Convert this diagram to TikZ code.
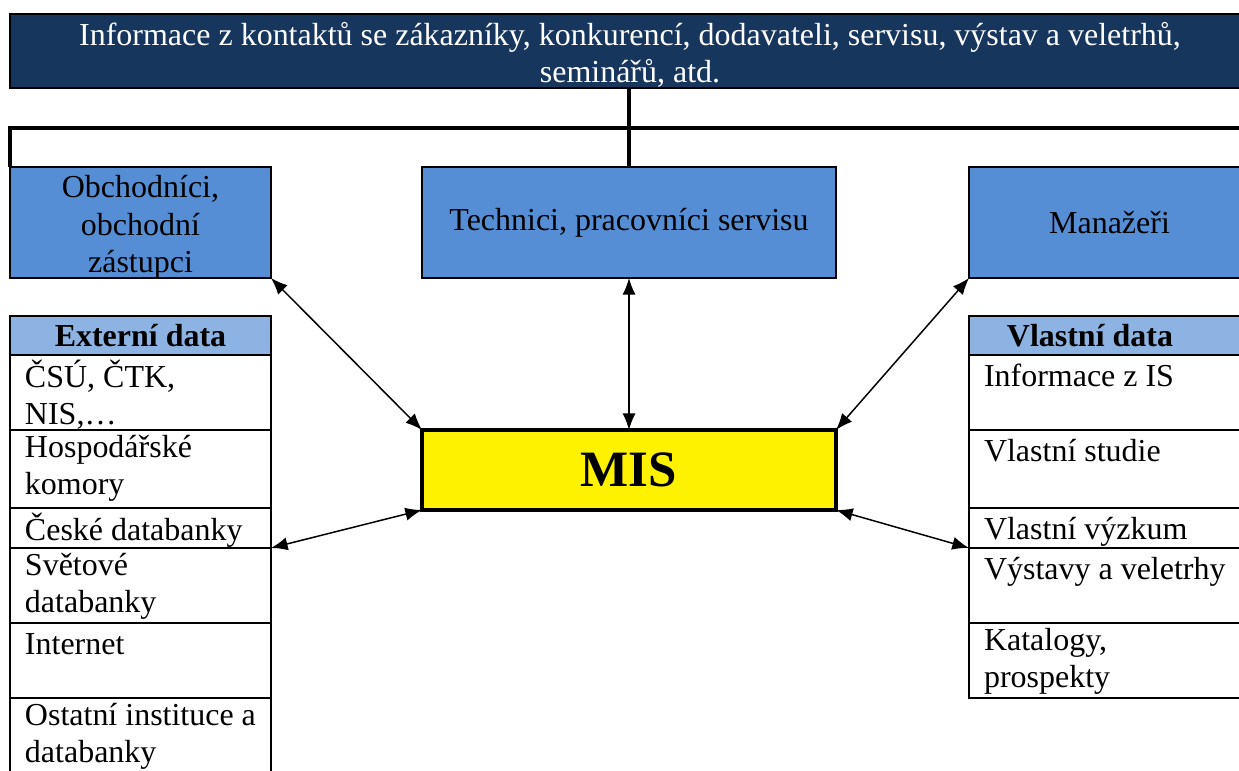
\documentclass[tikz,border=0pt]{standalone}
\usepackage{fontspec}
\setmainfont{Liberation Serif}
\usetikzlibrary{arrows.meta}
\definecolor{navy}{HTML}{17365D}
\definecolor{boxblue}{HTML}{558ED5}
\definecolor{headblue}{HTML}{8DB3E2}
\begin{document}
\begin{tikzpicture}[
    x=0.02cm, y=-0.02cm,
    every node/.style={
        font=\fontsize{18.2}{21.3}\selectfont,
        inner sep=0pt,
        outer sep=0pt},
    bluebox/.style={
        draw, line width=1.2pt, fill=boxblue, align=center,
        minimum height=2.22cm},
    cell/.style={
        draw, line width=1pt, anchor=north west,
        minimum width=5.22cm},
    headcell/.style={
        cell, fill=headblue, minimum height=0.78cm,
        font=\fontsize{18.2}{21.3}\selectfont\bfseries},
    celltext/.style={
        anchor=north west, align=left,
        execute at begin node=\strut},
    tree/.style={line width=1.9pt},
    biarrow/.style={
        line width=0.85pt,
        {Latex[length=9.5pt,width=7.5pt]}-{Latex[length=9.5pt,width=7.5pt]}}]
    \useasboundingbox (0,0) rectangle (1239,770);
    \clip (0,0) rectangle (1239,770);

    \node[draw, line width=1.2pt, fill=navy,
        minimum width=24.8cm, minimum height=1.48cm] (banner) at (630,51) {};
    \node[text=white, align=center] (bannertext) at ([yshift=-0.08cm]banner.center)
        {Informace z kontaktů se zákazníky, konkurencí, dodavateli, servisu, výstav a veletrhů,\\seminářů, atd.};

    \node[bluebox, minimum width=5.22cm] (obch) at (140.5,222.5) {};
    \node[align=center] (obchtext) at ([yshift=-0.1cm]obch.center)
        {Obchodníci,\\obchodní\\zástupci};
    \node[bluebox, minimum width=8.28cm] (tech) at (629,222.5)
        {Technici, pracovníci servisu};
    \node[bluebox, minimum width=5.62cm] (man) at (1109.5,222.5) {Manažeři};

    \node[draw, line width=2.3pt, fill=yellow, minimum width=8.28cm,
        minimum height=1.6cm, font=\fontsize{29}{34}\selectfont\bfseries]
        (mis) at (629,470) {MIS};

    % externi data
    \node[headcell] (ext) at (10,316) {Externí data};
    \node[cell, minimum height=1.5cm] (e1) at (10,355) {};
    \node[cell, minimum height=1.56cm] (e2) at (10,430) {};
    \node[cell, minimum height=0.8cm] (e3) at (10,508) {};
    \node[cell, minimum height=1.5cm] (e4) at (10,548) {};
    \node[cell, minimum height=1.5cm] (e5) at (10,623) {};
    \node[cell, minimum height=1.84cm] (e6) at (10,698) {};

    \node[celltext] (te1) at ([shift={(0.3cm,-0.1cm)}]e1.north west) {ČSÚ, ČTK,\\NIS,…};
    \node[celltext] (te2) at ([shift={(0.3cm,-0.1cm)}]e2.north west) {Hospodářské\\komory};
    \node[celltext] (te3) at ([shift={(0.3cm,-0.1cm)}]e3.north west) {České databanky};
    \node[celltext] (te4) at ([shift={(0.3cm,-0.1cm)}]e4.north west) {Světové\\databanky};
    \node[celltext] (te5) at ([shift={(0.3cm,-0.1cm)}]e5.north west) {Internet};
    \node[celltext] (te6) at ([shift={(0.3cm,-0.1cm)}]e6.north west) {Ostatní instituce a\\databanky};

    % vlastni data
    \node[headcell, minimum width=5.6cm] (own) at (969,316) {\hspace{-0.76cm}Vlastní data};
    \node[cell, minimum width=5.6cm, minimum height=1.5cm] (v1) at (969,355) {};
    \node[cell, minimum width=5.6cm, minimum height=1.56cm] (v2) at (969,430) {};
    \node[cell, minimum width=5.6cm, minimum height=0.8cm] (v3) at (969,508) {};
    \node[cell, minimum width=5.6cm, minimum height=1.5cm] (v4) at (969,548) {};
    \node[cell, minimum width=5.6cm, minimum height=1.5cm] (v5) at (969,623) {};

    \node[celltext] (tv1) at ([shift={(0.3cm,-0.1cm)}]v1.north west) {Informace z IS};
    \node[celltext] (tv2) at ([shift={(0.3cm,-0.1cm)}]v2.north west) {Vlastní studie};
    \node[celltext] (tv3) at ([shift={(0.3cm,-0.1cm)}]v3.north west) {Vlastní výzkum};
    \node[celltext] (tv4) at ([shift={(0.3cm,-0.1cm)}]v4.north west) {Výstavy a veletrhy};
    \node[celltext] (tv5) at ([shift={(0.3cm,-0.1cm)}]v5.north west) {Katalogy,\\prospekty};

    \coordinate (bus) at (1260,128);
    \draw[tree] (banner.south -| tech.north) -- (tech.north);
    \draw[tree] (obch.north west) |- (bus);

    \draw[biarrow] (obch.south east) -- (mis.north west);
    \draw[biarrow] (tech.south) -- (mis.north);
    \draw[biarrow] (man.south west) -- (mis.north east);
    \draw[biarrow] (mis.south west) -- (e3.south east);
    \draw[biarrow] (mis.south east) -- (v3.south west);
\end{tikzpicture}
\end{document}
